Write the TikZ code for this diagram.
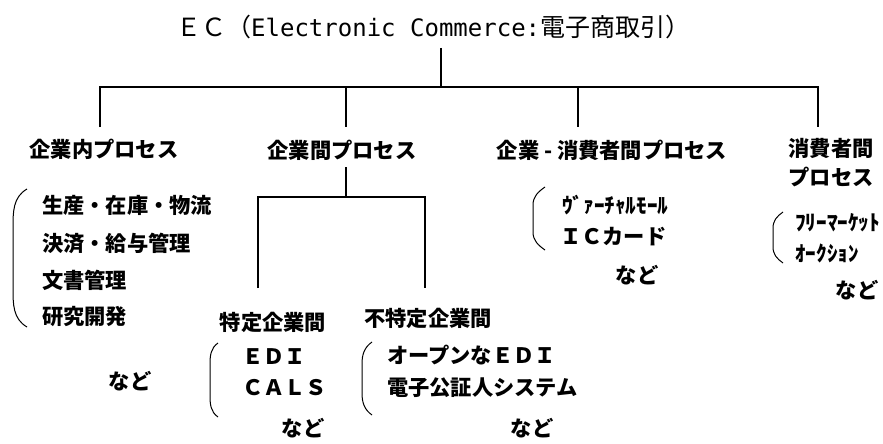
\documentclass[tikz,border=0pt]{standalone}
\usepackage{fontspec}
\setmainfont{Noto Sans CJK JP}
\newfontfamily\latinmono{DejaVu Sans Mono}
\begin{document}
\begin{tikzpicture}[x=1pt,y=-1pt,
  conn/.style={line width=1.6pt,black},
  paren/.style={line width=1pt,black},
  ttl/.style={inner sep=0pt,font=\fontsize{25}{25}\selectfont},
  lbl/.style={inner sep=0pt,font=\bfseries\fontsize{21.25}{29}\selectfont,align=center},
  item/.style={inner sep=0pt,anchor=west,font=\bfseries\fontsize{21.25}{21}\selectfont},
  etc/.style={inner sep=0pt,font=\bfseries\fontsize{21.25}{21}\selectfont}]
\useasboundingbox (0,0) rectangle (883,444);
% title
\node[ttl,anchor=west] (t) at (176,27) {ＥＣ（{\latinmono\fontsize{24}{24}\selectfont Electronic Commerce:}電子商取引）};
% top tree
\coordinate (top) at (441,48);
\coordinate (bar) at (441,87);
\coordinate (d1t) at (100,87);  \coordinate (d1b) at (100,127);
\coordinate (d2t) at (346,87);  \coordinate (d2b) at (346,127);
\coordinate (d3t) at (578,87);  \coordinate (d3b) at (578,127);
\coordinate (d4t) at (818,87);  \coordinate (d4b) at (818,127);
\draw[conn] (top) -- (bar);
\draw[conn] (d1b) -- (d1t) -- (d4t) -- (d4b);
\draw[conn] (d2t) -- (d2b);
\draw[conn] (d3t) -- (d3b);
% labels
\node[lbl] (l1) at (104,149) {企業内プロセス};
\node[lbl] (l2) at (342,150) {企業間プロセス};
\node[lbl] (l3) at (612,150) {企業 - 消費者間プロセス};
\node[lbl] (l4) at (831,163) {消費者間\\プロセス};
% sub tree
\coordinate (s0) at (346,167);
\coordinate (s1) at (346,197);
\coordinate (s2t) at (258,197); \coordinate (s2b) at (258,288);
\coordinate (s3t) at (425,197); \coordinate (s3b) at (425,288);
\draw[conn] (s0) -- (s1);
\draw[conn] (s2b) -- (s2t) -- (s3t) -- (s3b);
% left list
\draw[paren] (27,189) to[out=210,in=90] (13,228) -- (13,288) to[out=-90,in=150] (27,327);
\node[item] (a1) at (42,205) {生産・在庫・物流};
\node[item] (a2) at (42,243) {決済・給与管理};
\node[item] (a3) at (42,280) {文書管理};
\node[item] (a4) at (42,317) {研究開発};
\node[etc] (a5) at (130,381) {など};
% 特定企業間
\node[lbl] (b0) at (273,322) {特定企業間};
\draw[paren] (218,343) to[out=215,in=90] (210,365) -- (210,395) to[out=-90,in=145] (218,417);
\node[item] (b1) at (242,357) {ＥＤＩ};
\node[item] (b2) at (242,388) {ＣＡＬＳ};
\node[etc] (b3) at (303,428) {など};
% 不特定企業間
\node[lbl] (c0) at (428,318) {不特定企業間};
\draw[paren] (372,342) to[out=215,in=90] (362,364) -- (362,393) to[out=-90,in=145] (372,415);
\node[item] (c1) at (387,355) {オープンなＥＤＩ};
\node[item] (c2) at (387,388) {電子公証人システム};
\node[etc] (c3) at (532,428) {など};
% 企業-消費者間
\draw[paren] (545,187) to[out=215,in=90] (533,205) -- (533,232) to[out=-90,in=145] (545,250);
\node[item] (e1) at (562,205) {ｳﾞｧｰﾁｬﾙﾓｰﾙ};
\node[item] (e2) at (560,237) {ＩＣカード};
\node[etc] (e3) at (637,275) {など};
% 消費者間
\draw[paren] (783,212) to[out=215,in=90] (773,228) -- (773,247) to[out=-90,in=145] (783,263);
\node[item] (f1) at (795,223) {ﾌﾘｰﾏｰｹｯﾄ};
\node[item] (f2) at (795,253) {ｵｰｸｼｮﾝ};
\node[etc] (f3) at (857,290) {など};
\end{tikzpicture}
\end{document}
